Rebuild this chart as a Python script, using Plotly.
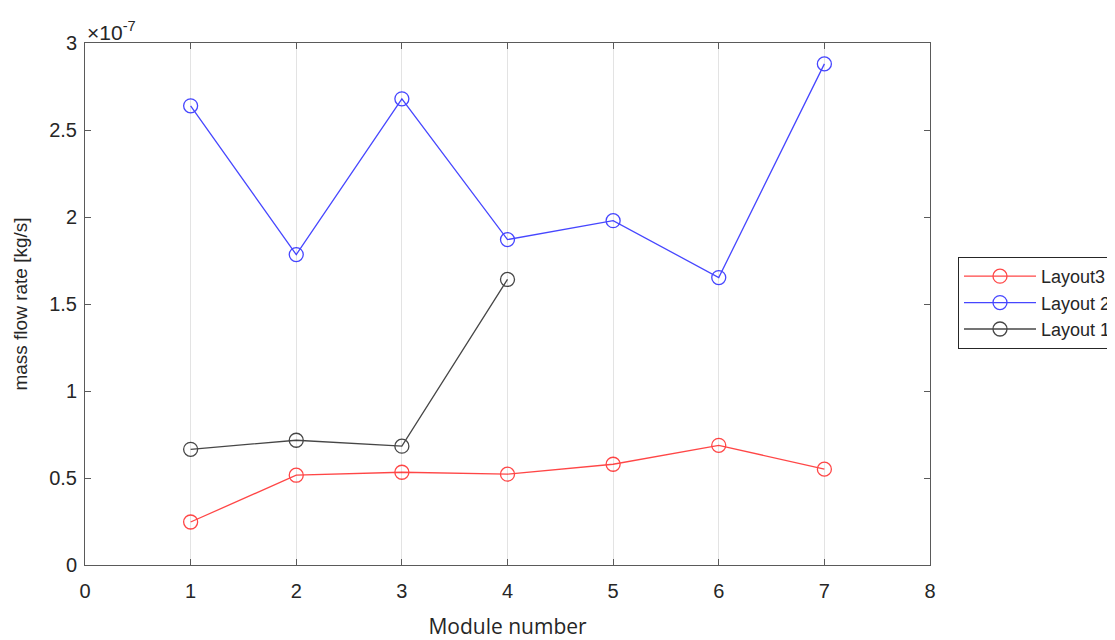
import plotly.graph_objects as go

modules = [1, 2, 3, 4, 5, 6, 7]
layout3 = [0.247, 0.516, 0.533, 0.522, 0.579, 0.688, 0.551]
layout2 = [2.639, 1.784, 2.679, 1.870, 1.979, 1.652, 2.880]
layout1_x = [1, 2, 3, 4]
layout1 = [0.665, 0.717, 0.683, 1.641]
x_ticks = [0, 1, 2, 3, 4, 5, 6, 7, 8]
y_ticks = [0, 0.5, 1, 1.5, 2, 2.5, 3]
y_tick_text = ["0", "0.5", "1", "1.5", "2", "2.5", "3"]

font = "Liberation Sans, Arial, sans-serif"
W, H = 1107, 632

fig = go.Figure()
series = [
    ("Layout3", modules, layout3, "#ff0000"),
    ("Layout 2", modules, layout2, "#0000ff"),
    ("Layout 1", layout1_x, layout1, "#000000"),
]
for name, xs, ys, col in series:
    fig.add_trace(go.Scatter(
        x=xs, y=ys, name=name, mode="lines+markers",
        line=dict(color=col, width=1.3),
        marker=dict(symbol="circle-open", size=14, color=col, line=dict(width=1.3, color=col)),
        opacity=0.72,
    ))

fig.update_layout(
    width=W, height=H,
    paper_bgcolor="white", plot_bgcolor="white",
    margin=dict(l=77, r=185, t=35, b=75, autoexpand=False),
    font=dict(family=font, size=20, color="#262626"),
    showlegend=True,
    legend=dict(xref="container", yref="container",
                x=950 / W, y=1 - 249 / H, xanchor="left", yanchor="top",
                bordercolor="#262626", borderwidth=1, bgcolor="white",
                font=dict(size=18, color="#262626"), tracegroupgap=0,
                itemwidth=72),
    xaxis=dict(range=[0, 8], tickvals=x_ticks, showgrid=True, gridcolor="#e3e3e3",
               gridwidth=1, zeroline=False, showline=True, linecolor="#5a5a5a",
               linewidth=1, mirror="ticks", ticks="inside", ticklen=6,
               tickcolor="#5a5a5a", automargin=False, ticklabelstandoff=8,
               title=dict(text="Module number", font=dict(size=21, family="Open Sans, sans-serif"),
                          standoff=22)),
    yaxis=dict(range=[0, 3], tickvals=y_ticks, ticktext=y_tick_text, showgrid=False,
               zeroline=False, showline=True, linecolor="#5a5a5a", linewidth=1,
               mirror="ticks", ticks="inside", ticklen=6, tickcolor="#5a5a5a",
               automargin=False, ticklabelstandoff=3,
               title=dict(text="mass flow rate [kg/s]", font=dict(size=19), standoff=16)),
    annotations=[dict(text="×10<sup>-7</sup>", xref="paper", yref="paper",
                      x=0, y=1.0, xanchor="left", yanchor="bottom", showarrow=False,
                      font=dict(size=21, color="#262626"), yshift=-3)],
)

fig.write_html("out.html")
